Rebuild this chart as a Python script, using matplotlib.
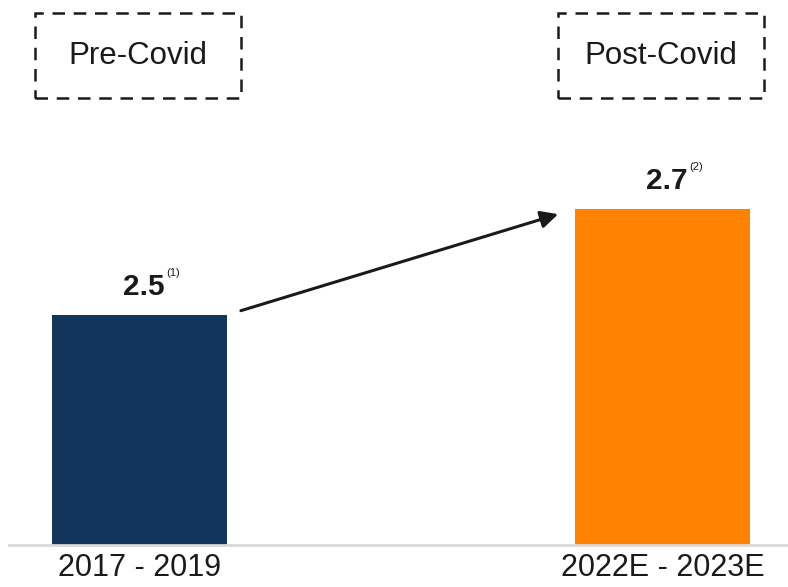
import matplotlib
matplotlib.use("Agg")
import matplotlib.pyplot as plt
from matplotlib.patches import Rectangle
import matplotlib.transforms as mtransforms

plt.rcParams['font.family'] = ['Liberation Sans', 'DejaVu Sans']

# data
periods = ['2017 - 2019', '2022E - 2023E']
values = [2.5, 2.7]
notes = ['(1)', '(2)']
phases = ['Pre-Covid', 'Post-Covid']
colors = ['#12355b', '#ff8200']

fig = plt.figure(figsize=(7.88, 5.87), dpi=100)
ax = fig.add_axes([9 / 788, 1 - 545 / 587, 779 / 788, 545 / 587])

x = list(range(len(values)))
ax.bar(x, values, width=0.334, color=colors, zorder=2)

ax.set_xlim(-0.249, 1.239)
ax.set_ylim(2.066, 3.094)

for s in ['left', 'right', 'top']:
    ax.spines[s].set_visible(False)
ax.spines['bottom'].set_color('#d9d9d9')
ax.spines['bottom'].set_linewidth(2)
ax.set_yticks([])
ax.set_xticks(x, periods, fontsize=22, color='#1a1a1a')
ax.tick_params(axis='x', length=0, pad=6)

# value labels + footnote marks
for xi, v, n in zip(x, values, notes):
    ax.annotate(f'{v:.1f}', (xi, v), xytext=(3, 14.5), textcoords='offset points',
                ha='center', va='baseline', fontsize=21.5, fontweight='bold', color='#1a1a1a')
    ax.annotate(n, (xi, v), xytext=(24, 30), textcoords='offset points',
                ha='center', va='center', fontsize=8, color='#1a1a1a')

# growth arrow
ax.annotate('', xy=(x[1] - 0.2, values[1] - 0.01), xytext=(x[0] + 0.194, values[0] + 0.008),
            arrowprops=dict(arrowstyle='-|>', color='#1a1a1a', lw=2.2,
                            mutation_scale=26, shrinkA=0, shrinkB=0))

# dashed phase boxes above the bars
trans = mtransforms.blended_transform_factory(ax.transData, fig.transFigure)
box_w = 0.394
for xi, label in zip(x, phases):
    cx = xi - 0.003
    rect = Rectangle((cx - box_w / 2, 1 - 98 / 587), box_w, 85 / 587, transform=trans,
                     fill=False, edgecolor='#1a1a1a', lw=1.8, linestyle=(0, (5, 3.5)),
                     clip_on=False)
    fig.add_artist(rect)
    fig.text(0, 1 - 55.5 / 587, label, transform=trans, fontsize=22.5, color='#1a1a1a',
             ha='center', va='center').set_x(cx)

fig.savefig('out.png', dpi=100)
